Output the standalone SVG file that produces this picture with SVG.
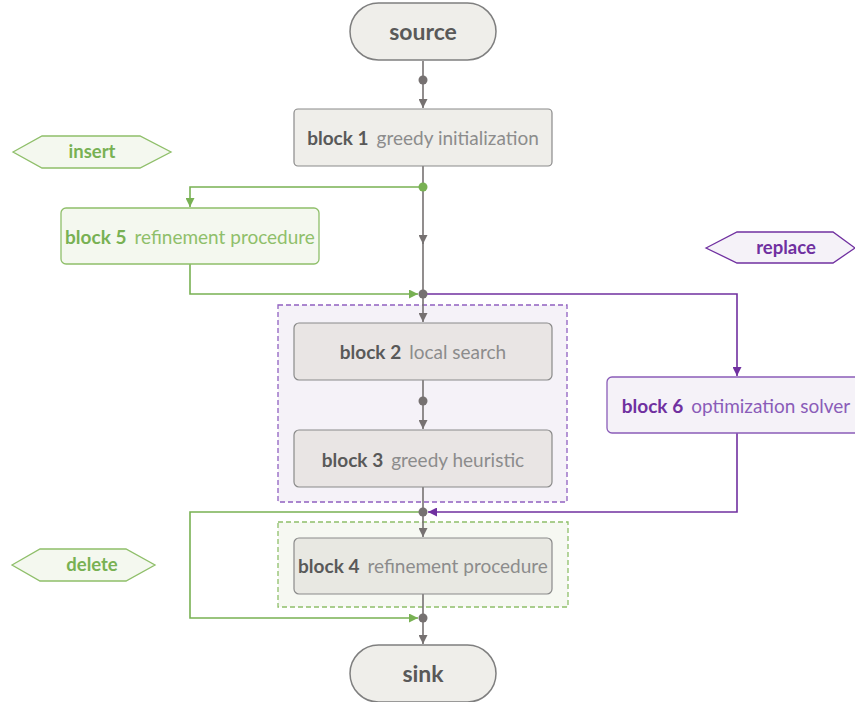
<svg xmlns="http://www.w3.org/2000/svg" width="855" height="702" viewBox="0 0 855 702">
<style>
text{font-family:Lato,"Open Sans","Liberation Sans",sans-serif;font-size:19px;text-anchor:middle;dominant-baseline:central}
.b{font-weight:bold}
.term{fill:#efeeea;stroke:#7f7f7f;stroke-width:1.5}
.blk{stroke:#8a8a8a;stroke-width:1.2}
.gl{fill:none;stroke:#767171;stroke-width:1.6}
.gr{fill:none;stroke:#78b153;stroke-width:1.6}
.pu{fill:none;stroke:#7030a0;stroke-width:1.6}
.dk{fill:#595959}
.lt{fill:#8c8c8c}
.tag{font-size:18.5px;font-weight:bold}
</style>
<defs>
<marker id="ag" viewBox="0 0 10 10" refX="10" refY="5" markerWidth="9" markerHeight="9" markerUnits="userSpaceOnUse" orient="auto"><path d="M0,0L10,5L0,10z" fill="#767171"/></marker>
<marker id="agr" viewBox="0 0 10 10" refX="10" refY="5" markerWidth="9" markerHeight="9" markerUnits="userSpaceOnUse" orient="auto"><path d="M0,0L10,5L0,10z" fill="#78b153"/></marker>
<marker id="apu" viewBox="0 0 10 10" refX="10" refY="5" markerWidth="9" markerHeight="9" markerUnits="userSpaceOnUse" orient="auto"><path d="M0,0L10,5L0,10z" fill="#7030a0"/></marker>
</defs>
<rect width="855" height="702" fill="#ffffff"/>

<g id="group-replace">
<rect x="278" y="305" width="289" height="197" fill="#f5f2f8" stroke="#9060c0" stroke-width="1.3" stroke-dasharray="5,3"/>
</g>
<g id="group-delete">
<rect x="278" y="522" width="290" height="85" fill="#f6f8f2" stroke="#8fbf6a" stroke-width="1.3" stroke-dasharray="5,3"/>
</g>

<g id="connectors">
<path class="gl" d="M423,61V108" marker-end="url(#ag)"/>
<path class="gl" d="M423,166V244" marker-end="url(#ag)"/>
<path class="gl" d="M423,240V322" marker-end="url(#ag)"/>
<path class="gl" d="M423,380V429" marker-end="url(#ag)"/>
<path class="gl" d="M423,487V537" marker-end="url(#ag)"/>
<path class="gl" d="M423,594V644" marker-end="url(#ag)"/>
<path class="gr" d="M423,187H190V207" marker-end="url(#agr)"/>
<path class="gr" d="M190,264V294H418" marker-end="url(#agr)"/>
<path class="pu" d="M423,294H737V376" marker-end="url(#apu)"/>
<path class="pu" d="M737,433V512H428" marker-end="url(#apu)"/>
<path class="gr" d="M423,512H190V618H418" marker-end="url(#agr)"/>
<circle cx="423" cy="80" r="4.5" fill="#767171"/>
<circle cx="423" cy="187" r="4.5" fill="#78b153"/>
<circle cx="423" cy="294" r="4.5" fill="#767171"/>
<circle cx="423" cy="401" r="4.5" fill="#767171"/>
<circle cx="423" cy="512" r="4.5" fill="#767171"/>
<circle cx="423" cy="618" r="4.5" fill="#767171"/>
</g>

<g id="source">
<rect class="term" x="350" y="3" width="146" height="57" rx="28.5"/>
<text class="b dk" x="423" y="31" style="font-size:23px">source</text>
</g>
<g id="block1">
<rect class="blk" x="294" y="109" width="258" height="57" rx="4" fill="#efeeea"/>
<text x="423" y="137"><tspan class="b dk">block 1</tspan><tspan class="lt" dx="8">greedy initialization</tspan></text>
</g>
<g id="block5">
<rect x="61" y="208" width="258" height="56" rx="5" fill="#f4f8ef" stroke="#8fbf6a" stroke-width="1.3"/>
<text x="190" y="236"><tspan class="b" fill="#78b153">block 5</tspan><tspan fill="#8fbf6a" dx="8">refinement procedure</tspan></text>
</g>
<g id="block2">
<rect class="blk" x="294" y="323" width="258" height="57" rx="5" fill="#e9e5e4"/>
<text x="423" y="351"><tspan class="b dk">block 2</tspan><tspan class="lt" dx="8">local search</tspan></text>
</g>
<g id="block3">
<rect class="blk" x="294" y="430" width="258" height="57" rx="5" fill="#e9e5e4"/>
<text x="423" y="459"><tspan class="b dk">block 3</tspan><tspan class="lt" dx="8">greedy heuristic</tspan></text>
</g>
<g id="block6">
<rect x="607" y="377" width="262" height="56" rx="5" fill="#f5f2f8" stroke="#8a5cb8" stroke-width="1.3"/>
<text x="736" y="405"><tspan class="b" fill="#7030a0">block 6</tspan><tspan fill="#8a5cb8" dx="8">optimization solver</tspan></text>
</g>
<g id="block4">
<rect class="blk" x="294" y="538" width="258" height="56" rx="5" fill="#e8e8e2"/>
<text x="423" y="565"><tspan class="b dk">block 4</tspan><tspan class="lt" dx="8">refinement procedure</tspan></text>
</g>
<g id="sink">
<rect class="term" x="350" y="645" width="146" height="57" rx="28.5"/>
<text class="b dk" x="423" y="673" style="font-size:23px">sink</text>
</g>

<g id="label-insert">
<polygon points="13,152 42,136 140,136 171,152 140,168 42,168" fill="#f4f8ef" stroke="#8fbf6a" stroke-width="1.3"/>
<text class="tag" x="92" y="151" fill="#78b153">insert</text>
</g>
<g id="label-replace">
<polygon points="706,248 737,232 833,232 855,248 833,263 737,263" fill="#f5f2f8" stroke="#7030a0" stroke-width="1.3"/>
<text class="tag" x="786" y="247" fill="#7030a0">replace</text>
</g>
<g id="label-delete">
<polygon points="12,565 40,549 126,549 155,565 126,581 40,581" fill="#f4f8ef" stroke="#8fbf6a" stroke-width="1.3"/>
<text class="tag" x="92" y="564" fill="#78b153">delete</text>
</g>
</svg>
